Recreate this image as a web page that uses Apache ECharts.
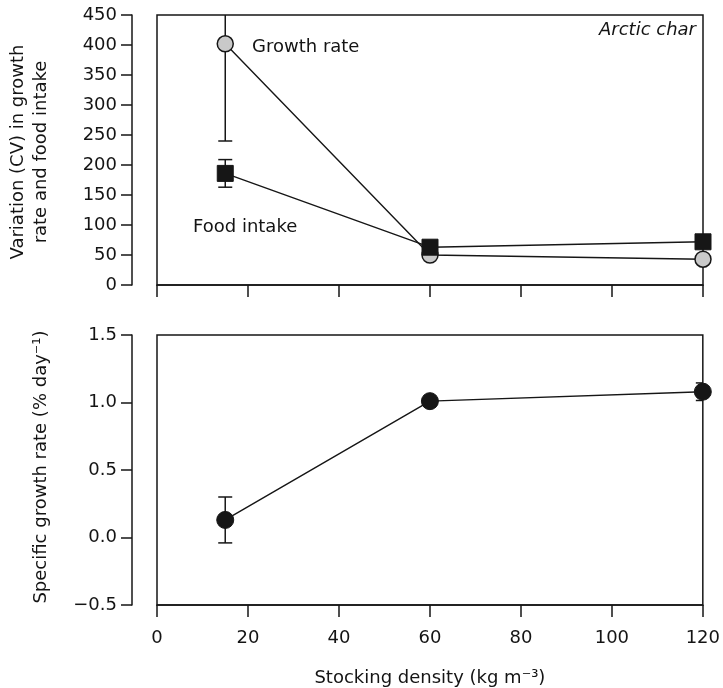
<!DOCTYPE html>
<html>
<head>
<meta charset="utf-8">
<script src="https://cdn.jsdelivr.net/npm/echarts@6/dist/echarts.min.js"></script>
<style>
html,body{margin:0;padding:0;background:#fff;}
#chart{width:723px;height:688px;}
</style>
</head>
<body>
<div id="chart"></div>
<script>
// ---- data ----
var densities = [15, 60, 120];
var growthCV = [402, 50, 43];
var growthCVErr = [162, 0, 0];
var foodCV = [186, 63, 72];
var foodCVErr = [23, 0, 0];
var sgr = [0.13, 1.01, 1.08];
var sgrErr = [0.17, 0, 0.065];
var xTicks = [0, 20, 40, 60, 80, 100, 120];
var cvTicks = [0, 50, 100, 150, 200, 250, 300, 350, 400, 450];
var sgrTicks = [-0.5, 0, 0.5, 1.0, 1.5];

var FONT = 'DejaVu Sans';
var INK = '#161616';
var TXT = '#141414';

function pairs(xs, ys) { return xs.map(function (x, i) { return [x, ys[i]]; }); }
function triples(xs, ys, es) { return xs.map(function (x, i) { return [x, ys[i], es[i]]; }); }

function errRender(params, api) {
  var x = api.value(0), y = api.value(1), e = api.value(2);
  if (!e) return;
  var lo = api.coord([x, y - e]), hi = api.coord([x, y + e]);
  var w = 7;
  var st = { stroke: INK, lineWidth: 1.5 };
  return {
    type: 'group',
    children: [
      { type: 'line', shape: { x1: lo[0], y1: lo[1], x2: hi[0], y2: hi[1] }, style: st },
      { type: 'line', shape: { x1: lo[0] - w, y1: lo[1], x2: lo[0] + w, y2: lo[1] }, style: st },
      { type: 'line', shape: { x1: hi[0] - w, y1: hi[1], x2: hi[0] + w, y2: hi[1] }, style: st }
    ]
  };
}

function xAxisCfg(idx, showLabels) {
  return {
    gridIndex: idx, type: 'value', min: xTicks[0], max: xTicks[xTicks.length - 1],
    interval: xTicks[1] - xTicks[0],
    axisLine: { show: true, onZero: false, lineStyle: { color: INK, width: 1.5 } },
    axisTick: { show: true, inside: false, length: 12, lineStyle: { color: INK, width: 1.5 } },
    axisLabel: { show: showLabels, margin: 24, fontFamily: FONT, fontSize: 18, color: TXT },
    splitLine: { show: false },
    name: showLabels ? 'Stocking density (kg m\u207B\u00B3)' : '',
    nameLocation: 'middle', nameGap: 64,
    nameTextStyle: { fontFamily: FONT, fontSize: 18, color: TXT }
  };
}

function yAxisCfg(idx, ticks, fmt) {
  return {
    gridIndex: idx, type: 'value', min: ticks[0], max: ticks[ticks.length - 1],
    interval: ticks[1] - ticks[0], offset: 25,
    axisLine: { show: true, onZero: false, lineStyle: { color: INK, width: 1.5 } },
    axisTick: { show: true, inside: false, length: 11, lineStyle: { color: INK, width: 1.5 } },
    axisLabel: { margin: 15, fontFamily: FONT, fontSize: 18, color: TXT, formatter: fmt },
    splitLine: { show: false }
  };
}

function txt(x, y, text, size, opts) {
  opts = opts || {};
  var al = opts.align || 'left';
  return {
    type: 'text', x: x, y: y, rotation: opts.rotation || 0,
    style: {
      text: text, fontFamily: FONT, fontSize: size, fontStyle: opts.italic ? 'italic' : 'normal',
      fill: TXT, align: al, verticalAlign: 'middle', textAlign: al, textVerticalAlign: 'middle'
    }
  };
}

var chart = echarts.init(document.getElementById('chart'), null, { renderer: 'canvas' });
chart.setOption({
  animation: false,
  backgroundColor: '#fff',
  grid: [
    { left: 157, right: 20, top: 15, height: 270, show: true, borderColor: INK, borderWidth: 1.5, backgroundColor: 'transparent' },
    { left: 157, right: 20, top: 335, height: 270, show: true, borderColor: INK, borderWidth: 1.5, backgroundColor: 'transparent' }
  ],
  xAxis: [xAxisCfg(0, false), xAxisCfg(1, true)],
  yAxis: [
    yAxisCfg(0, cvTicks, function (v) { return String(v); }),
    yAxisCfg(1, sgrTicks, function (v) { return (v < 0 ? '\u2212' : '') + Math.abs(v).toFixed(1); })
  ],
  series: [
    { type: 'custom', xAxisIndex: 0, yAxisIndex: 0, clip: true, z: 1, renderItem: errRender, data: triples(densities, growthCV, growthCVErr) },
    { type: 'custom', xAxisIndex: 0, yAxisIndex: 0, clip: true, z: 1, renderItem: errRender, data: triples(densities, foodCV, foodCVErr) },
    { type: 'custom', xAxisIndex: 1, yAxisIndex: 1, clip: true, z: 1, renderItem: errRender, data: triples(densities, sgr, sgrErr) },
    {
      name: 'Growth rate', type: 'line', xAxisIndex: 0, yAxisIndex: 0, z: 2,
      data: pairs(densities, growthCV), symbol: 'circle', symbolSize: 16,
      lineStyle: { color: INK, width: 1.4 },
      itemStyle: { color: '#c9c9c9', borderColor: INK, borderWidth: 1.5 }
    },
    {
      name: 'Food intake', type: 'line', xAxisIndex: 0, yAxisIndex: 0, z: 3,
      data: pairs(densities, foodCV), symbol: 'rect', symbolSize: 16,
      lineStyle: { color: INK, width: 1.4 },
      itemStyle: { color: INK, borderColor: INK, borderWidth: 1 }
    },
    {
      name: 'Specific growth rate', type: 'line', xAxisIndex: 1, yAxisIndex: 1, z: 3,
      data: pairs(densities, sgr), symbol: 'circle', symbolSize: 17,
      lineStyle: { color: INK, width: 1.4 },
      itemStyle: { color: INK, borderColor: INK, borderWidth: 1 }
    }
  ],
  graphic: [
    txt(696, 30, 'Arctic char', 18, { align: 'right', italic: true }),
    txt(252, 47, 'Growth rate', 18),
    txt(193, 227, 'Food intake', 18),
    txt(18, 152, 'Variation (CV) in growth', 18, { align: 'center', rotation: Math.PI / 2 }),
    txt(41, 152, 'rate and food intake', 18, { align: 'center', rotation: Math.PI / 2 }),
    txt(41, 467, 'Specific growth rate (% day\u207B\u00B9)', 18, { align: 'center', rotation: Math.PI / 2 })
  ]
});
</script>
</body>
</html>
